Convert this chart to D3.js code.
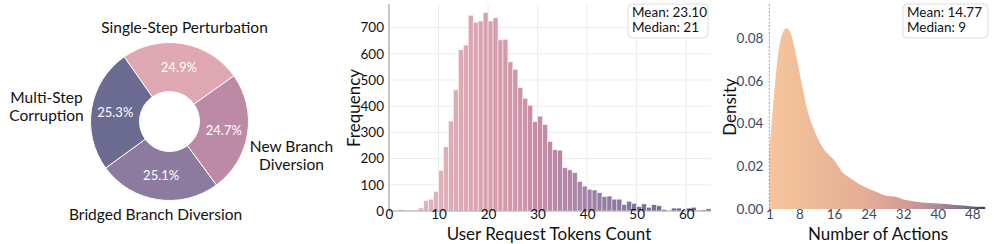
<!DOCTYPE html>
<html>
<head>
<meta charset="utf-8">
<script src="https://cdn.jsdelivr.net/npm/d3@7"></script>
<style>
  body { margin: 0; background: #fff; }
  text { font-family: Lato, "Noto Sans", sans-serif; }
</style>
</head>
<body>
<svg id="chart" width="997" height="244"></svg>
<script>
// ---- data ----
const pieLabels = ['Single-Step Perturbation', 'New Branch Diversion', 'Bridged Branch Diversion', 'Multi-Step Corruption'];
const piePct = [24.9, 24.7, 25.1, 25.3];
const pieColors = ['#dea7b1', '#bd8aa5', '#8c7a9f', '#6b6a91'];

// histogram: bins of width 1 starting at 0
const binStart = [0,1,2,3,4,5,6,7,8,9,10,11,12,13,14,15,16,17,18,19,20,21,22,23,24,25,26,27,28,29,30,31,32,33,34,35,36,37,38,39,40,41,42,43,44,45,46,47,48,49,50,51,52,53,54,55,56,57,58,59,60,61,62,63,64];
const binCount = [0,0,6,2,2,4,12,40,45,75,155,245,343,462,615,633,747,720,725,758,725,737,653,655,569,541,471,430,403,341,362,330,265,234,232,165,157,146,112,95,83,80,70,55,57,45,45,24,37,29,17,27,14,24,20,6,1,11,11,1,11,14,1,4,8];
const histYTicks = [0,100,200,300,400,500,600,700];
const histXTicks = [0,10,20,30,40,50,60];

// density (KDE) of number of actions
const actX = [1,2,3,4,5,6,7,8,9,10,11,12,13,14,15,16,17,18,19,20,22,24,26,28,30,32,34,36,38,40,42,44,46,48,50,51];
const actD = [0.027,0.051,0.072,0.082,0.0847,0.082,0.074,0.064,0.054,0.045,0.039,0.034,0.030,0.027,0.025,0.023,0.020,0.017,0.0155,0.014,0.0115,0.0095,0.0078,0.0062,0.0058,0.0045,0.0038,0.0032,0.0028,0.0026,0.0023,0.0019,0.0016,0.0012,0.001,0.0009];
const densYTicks = [0, 0.02, 0.04, 0.06, 0.08];
const densXTicks = [1, 8, 16, 24, 32, 40, 48];

const svg = d3.select('#chart');

// ---------- donut ----------
const cx = 169.5, cy = 121.5;
const pieG = svg.append('g').attr('transform', 'translate(' + cx + ',' + cy + ')');
const outerR = 79, innerR = 30;
const startA = -35 * Math.PI / 180;
const pie = d3.pie().sort(null).value(d => d)
  .startAngle(startA).endAngle(startA + 2 * Math.PI);
const arcs = pie(piePct);
const arcGen = d3.arc().innerRadius(innerR).outerRadius(outerR);
pieG.selectAll('path.slice')
  .data(arcs)
  .enter()
  .append('path')
    .attr('class', 'slice')
    .attr('d', arcGen)
    .attr('fill', (d, i) => pieColors[i])
    .attr('stroke', '#fff')
    .attr('stroke-width', 1);

const midArc = d3.arc().innerRadius(55).outerRadius(55);
pieG.selectAll('text.pct')
  .data(arcs)
  .enter()
  .append('text')
    .attr('class', 'pct')
    .attr('transform', d => 'translate(' + midArc.centroid(d) + ')')
    .attr('text-anchor', 'middle')
    .attr('dy', '0.35em')
    .attr('fill', '#fff')
    .style('font-size', '13px')
    .text(d => d.data.toFixed(1) + '%');

// outside labels (wrapped), anchor points relative to the donut centre
const labelPos = [[15, -94], [122, 34], [-14, 93], [-123, -15]];
const labelLines = [['Single-Step Perturbation'], ['New Branch', 'Diversion'], ['Bridged Branch Diversion'], ['Multi-Step', 'Corruption']];
labelLines.forEach((lines, i) => {
  const [x, y] = labelPos[i];
  lines.forEach((ln, j) => {
    pieG.append('text')
      .attr('x', x)
      .attr('y', y + (j - (lines.length - 1) / 2) * 18)
      .attr('text-anchor', 'middle')
      .attr('dy', '0.35em')
      .attr('fill', '#111')
      .style('font-size', '15.5px')
      .text(ln);
  });
});

// ---------- histogram ----------
const hx = d3.scaleLinear().domain([0, 65]).range([389, 711]);
const hy = d3.scaleLinear().domain([0, 790]).range([211, 4]);
const histColor = d3.scaleLinear()
  .domain([0, 20, 30, 40, 50, 65])
  .range(['#e4bfc7', '#d9a1ae', '#c78ca6', '#a383a6', '#7d73a0', '#615b8f']);

const hG = svg.append('g');
// grid
hG.selectAll('line.hgrid').data(histYTicks).enter().append('line')
  .attr('x1', hx(0)).attr('x2', hx(65))
  .attr('y1', d => hy(d)).attr('y2', d => hy(d))
  .attr('stroke', '#ececec').attr('stroke-width', 1);
hG.selectAll('line.vgrid').data(histXTicks).enter().append('line')
  .attr('x1', d => hx(d)).attr('x2', d => hx(d))
  .attr('y1', hy(0)).attr('y2', hy(790))
  .attr('stroke', '#ececec').attr('stroke-width', 1);

hG.selectAll('rect.bar')
  .data(binStart)
  .enter()
  .append('rect')
    .attr('class', 'bar')
    .attr('x', d => hx(d))
    .attr('width', hx(1) - hx(0))
    .attr('y', (d, i) => hy(binCount[i]))
    .attr('height', (d, i) => hy(0) - hy(binCount[i]))
    .attr('fill', d => histColor(d + 0.5))
    .attr('stroke', '#fff')
    .attr('stroke-width', 0.6)
    .attr('stroke-opacity', 0.8);

// spines
hG.append('line').attr('x1', hx(0)).attr('x2', hx(0)).attr('y1', hy(0)).attr('y2', hy(790))
  .attr('stroke', '#999').attr('stroke-width', 1);
hG.append('line').attr('x1', hx(0)).attr('x2', hx(65)).attr('y1', hy(0)).attr('y2', hy(0))
  .attr('stroke', '#aaa').attr('stroke-width', 1);

const hxAxis = hG.append('g').attr('transform', 'translate(0,' + hy(0) + ')')
  .call(d3.axisBottom(hx).tickValues(histXTicks).tickSize(0).tickPadding(-2));
const hyAxis = hG.append('g').attr('transform', 'translate(' + hx(0) + ',0)')
  .call(d3.axisLeft(hy).tickValues(histYTicks).tickSize(0).tickPadding(5));
[hxAxis, hyAxis].forEach(ax => {
  ax.select('.domain').remove();
  ax.selectAll('text').style('font-size', '13.5px').style('font-family', 'Lato, sans-serif').attr('fill', '#111');
});

hG.append('text')
  .attr('x', 549).attr('y', 234)
  .attr('text-anchor', 'middle').attr('dy', '0.35em')
  .style('font-size', '17px').attr('fill', '#111')
  .text('User Request Tokens Count');
hG.append('text')
  .attr('transform', 'translate(354,108) rotate(-90)')
  .attr('text-anchor', 'middle').attr('dy', '0.35em')
  .style('font-size', '17px').attr('fill', '#111')
  .text('Frequency');

function statBox(g, x, y, w, h, lines) {
  g.append('rect').attr('x', x).attr('y', y).attr('width', w).attr('height', h)
    .attr('rx', 4).attr('fill', '#fff').attr('fill-opacity', 0.85)
    .attr('stroke', '#ddd').attr('stroke-width', 1);
  lines.forEach((ln, j) => {
    g.append('text').attr('x', x + 4).attr('y', y + 8 + j * 15)
      .attr('dy', '0.35em').style('font-size', '13.5px').attr('fill', '#111').text(ln);
  });
}
statBox(hG, 628, 4, 80, 34, ['Mean: 23.10', 'Median: 21']);

// ---------- density ----------
const dx = d3.scaleLinear().domain([1, 51.3]).range([769.3, 986.5]);
const dy = d3.scaleLinear().domain([0, 0.0965]).range([209, 3]);
const dG = svg.append('g');

const defs = svg.append('defs');
const grad = defs.append('linearGradient').attr('id', 'densGrad')
  .attr('gradientUnits', 'userSpaceOnUse')
  .attr('x1', dx(1)).attr('x2', dx(51)).attr('y1', 0).attr('y2', 0);
[[0, '#f5c69b'], [0.45, '#e5ad95'], [0.65, '#d09a96'], [0.8, '#a98896'], [0.92, '#6e6a86'], [1, '#2c3d5e']]
  .forEach(s => grad.append('stop').attr('offset', s[0]).attr('stop-color', s[1]));

const area = d3.area()
  .x((d, i) => dx(actX[i]))
  .y0(dy(0))
  .y1(d => dy(d))
  .curve(d3.curveMonotoneX);
dG.append('path').datum(actD).attr('d', area).attr('fill', 'url(#densGrad)');

dG.append('line').attr('x1', dx(1)).attr('x2', dx(1)).attr('y1', dy(0)).attr('y2', dy(0.0965))
  .attr('stroke', '#7f8a9a').attr('stroke-width', 0.8).attr('stroke-dasharray', '2,1.5');

const dxAxis = dG.append('g').attr('transform', 'translate(0,' + dy(0) + ')')
  .call(d3.axisBottom(dx).tickValues(densXTicks).tickSize(0).tickPadding(0));
const dyAxis = dG.append('g').attr('transform', 'translate(' + dx(1) + ',0)')
  .call(d3.axisLeft(dy).tickValues(densYTicks).tickFormat(d3.format('.2f')).tickSize(0).tickPadding(6));
[dxAxis, dyAxis].forEach(ax => {
  ax.select('.domain').remove();
  ax.selectAll('text').style('font-size', '13.5px').style('font-family', 'Lato, sans-serif').attr('fill', '#3b4a60');
});

dG.append('text')
  .attr('x', 878).attr('y', 234)
  .attr('text-anchor', 'middle').attr('dy', '0.35em')
  .style('font-size', '17px').attr('fill', '#111')
  .text('Number of Actions');
dG.append('text')
  .attr('transform', 'translate(730,107) rotate(-90)')
  .attr('text-anchor', 'middle').attr('dy', '0.35em')
  .style('font-size', '17px').attr('fill', '#111')
  .text('Density');

statBox(dG, 903, 4, 85, 34, ['Mean: 14.77', 'Median: 9']);
</script>
</body>
</html>
